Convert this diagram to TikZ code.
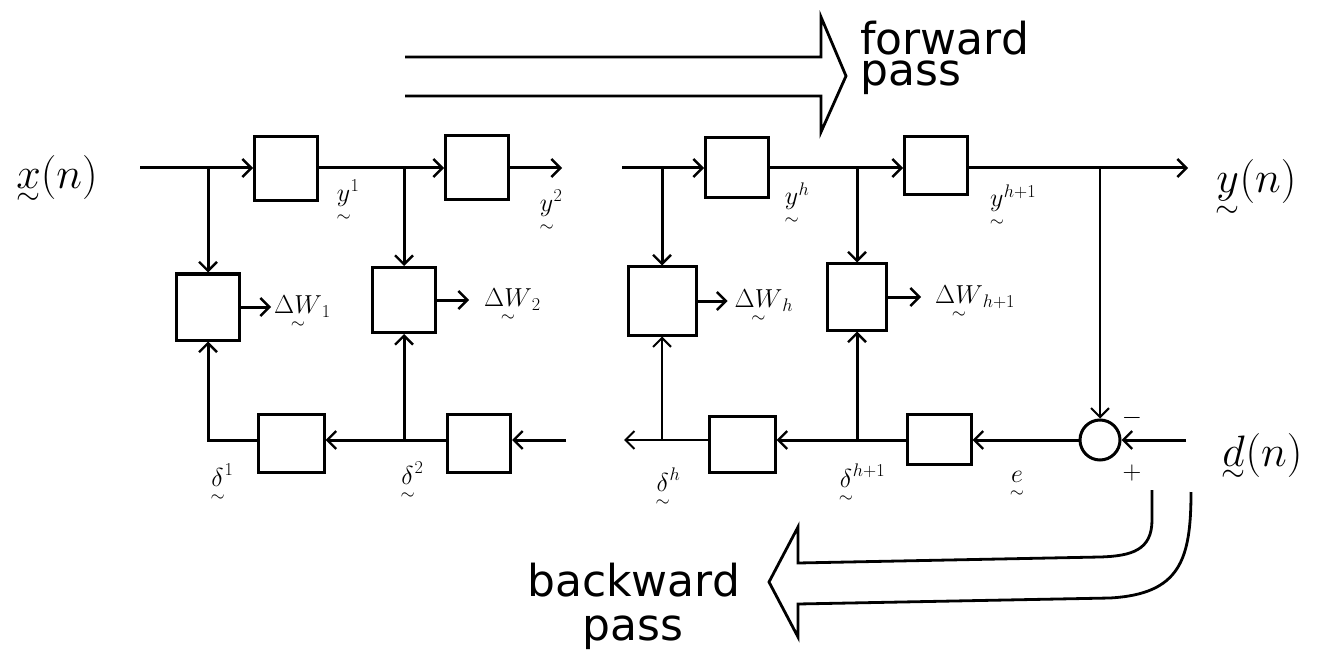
\RequirePackage{fix-cm}
\documentclass[tikz,border=0pt]{standalone}
\usepackage{amsmath}
\usepackage{fontspec}
\newfontfamily\handfont{DejaVu Sans}
\usetikzlibrary{arrows.meta,calc}
% vector mark: a tilde set under the symbol, kept out of the script placement
\newcommand{\vt}[1]{\vphantom{\underset{\sim}{#1}}\mathord{\smash[b]{\underset{\sim}{#1}}}}
\begin{document}
\begin{tikzpicture}[x=1pt,y=-1pt,
  blk/.style={draw, line width=3pt, inner sep=0pt, minimum width=63pt, minimum height=62pt},
  wire/.style={line width=3pt},
  arr/.style={wire, -{Straight Barb[length=9pt,width=18pt,line width=2.4pt]}},
  thinarr/.style={line width=2pt, -{Straight Barb[length=9pt,width=18pt,line width=2pt]}},
  lbl/.style={inner sep=1pt, font=\fontsize{26}{30}\selectfont},
  biglbl/.style={inner sep=0pt, anchor=base, font=\fontsize{44}{50}\selectfont},
  passlbl/.style={inner sep=0pt, anchor=base west, font=\handfont\fontsize{44}{50}\selectfont},
  pass/.style={line width=2.8pt, line join=miter}]
\useasboundingbox (0,0) rectangle (1319,660);

% ---- left block: layers 1 and 2 ----
\node[blk, minimum height=64pt] (b1) at (286,169) {};
\node[blk, minimum height=64pt] (b2) at (477,168) {};
\node[blk, minimum height=66pt] (w1) at (208,307) {};
\node[blk, minimum height=65pt] (w2) at (404,300) {};
\node[blk, minimum width=66pt, minimum height=58pt] (c1) at (291,443) {};
\node[blk, minimum height=58pt] (c2) at (479,443) {};

\node[biglbl] (xin) at (57,189) {$\vt{x}(n)$};
\coordinate (xs) at (140,168);
\coordinate (j1) at (208,168);
\coordinate (j2) at (404,168);
\coordinate (y2e) at (562,168);
\coordinate (ds) at (566,440);
\coordinate (j3) at (404,440);

\draw[arr] (xs) -- (b1.west |- xs);
\draw[arr] (j1) -- (w1.north);
\draw[arr] (b1.east |- xs) -- (b2.west |- xs);
\draw[arr] (j2) -- (w2.north);
\draw[arr] (b2.east |- xs) -- (y2e);
\draw[arr] (ds) -- (c2.east |- ds);
\draw[arr] (c2.west |- ds) -- (c1.east |- ds);
\draw[arr] (j3) -- (w2.south);
\draw[arr] (c1.west |- ds) -| (w1.south);

\node[lbl, anchor=west] (dw1) at ($(w1.east)+(32,6)$) {$\vt{\Delta W}_{1}$};
\node[lbl, anchor=west] (dw2) at ($(w2.east)+(46,6)$) {$\vt{\Delta W}_{2}$};
\draw[arr] (w1.east) -- ++(30,0);
\draw[arr] (w2.east) -- ++(32,0);

\node[lbl] (ly1) at (348,202) {$\vt{y}^{1}$};
\node[lbl] (ly2) at (551,212) {$\vt{y}^{2}$};
\node[lbl] (ld1) at (222,484) {$\vt{\delta}^{1}$};
\node[lbl] (ld2) at (412,482) {$\vt{\delta}^{2}$};

% ---- right block: layers h and h+1 ----
\node[blk, minimum height=60pt] (b3) at (737,168) {};
\node[blk, minimum height=58pt] (b4) at (936,166) {};
\node[blk, minimum width=68pt, minimum height=68pt] (w3) at (662,301) {};
\node[blk, minimum width=59pt, minimum height=66pt] (w4) at (857,297) {};
\node[blk, minimum width=66pt, minimum height=56pt] (c3) at (742,444) {};
\node[blk, minimum width=64pt, minimum height=50pt] (c4) at (939,439) {};
\node[draw, circle, line width=3pt, minimum size=40pt, inner sep=0pt] (sum) at (1100,440) {};

\coordinate (hs) at (622,168);
\coordinate (j4) at (662,168);
\coordinate (j5) at (857,168);
\coordinate (j6) at (1100,168);
\coordinate (ye) at (1188,168);
\coordinate (dns) at (1186,440);
\coordinate (j7) at (857,440);
\coordinate (j8) at (662,440);
\coordinate (de) at (624,440);

\draw[arr] (hs) -- (b3.west |- hs);
\draw[arr] (j4) -- (w3.north);
\draw[arr] (b3.east |- hs) -- (b4.west |- hs);
\draw[arr] (j5) -- (w4.north);
\draw[arr] (b4.east |- hs) -- (ye);
\draw[thinarr] (j6) -- (sum.north);
\draw[arr] (dns) -- (sum.east);
\draw[arr] (sum.west) -- (c4.east |- dns);
\draw[arr] (c4.west |- dns) -- (c3.east |- dns);
\draw[arr] (j7) -- (w4.south);
\draw[thinarr] (c3.west |- dns) -- (de);
\draw[thinarr] (j8) -- (w3.south);

\node[lbl, anchor=west] (dwh) at ($(w3.east)+(36,6)$) {$\vt{\Delta W}_{h}$};
\node[lbl, anchor=west] (dwh1) at ($(w4.east)+(46,6)$) {$\vt{\Delta W}_{h+1}$};
\draw[arr] (w3.east) -- ++(30,0);
\draw[arr] (w4.east) -- ++(33,0);

\node[lbl] (lyh) at (797,205) {$\vt{y}^{h}$};
\node[lbl] (lyh1) at (1013,207) {$\vt{y}^{h+1}$};
\node[lbl] (ldh) at (668,488) {$\vt{\delta}^{h}$};
\node[lbl] (ldh1) at (862,484) {$\vt{\delta}^{h+1}$};
\node[lbl] (le) at (1017,486) {$\vt{e}$};
\node[lbl] (lminus) at (1132,418) {$-$};
\node[lbl] (lplus) at (1132,473) {$+$};
\node[biglbl] (yout) at (1256,193) {$\vt{y}(n)$};
\node[biglbl] (dn) at (1262,466) {$\vt{d}(n)$};

% ---- forward and backward pass arrows ----
\draw[pass] (405,57) -- (821,57) -- (821,17) -- (846,76) -- (821,132) -- (821,96) -- (405,96);
\node[passlbl] (fw) at (860,55) {forward};
\node[passlbl] (fp) at (860,86) {pass};

\draw[pass] (1152,490) -- (1152,520) .. controls (1152,550) and (1132,556) .. (1100,557)
  -- (798,563) -- (798,527) -- (769,582) -- (798,637) -- (798,604) -- (1110,598)
  .. controls (1180,594) and (1191,560) .. (1191,492);
\node[passlbl] (bw) at (527,596) {backward};
\node[passlbl] (bp) at (582,640) {pass};
\end{tikzpicture}
\end{document}
